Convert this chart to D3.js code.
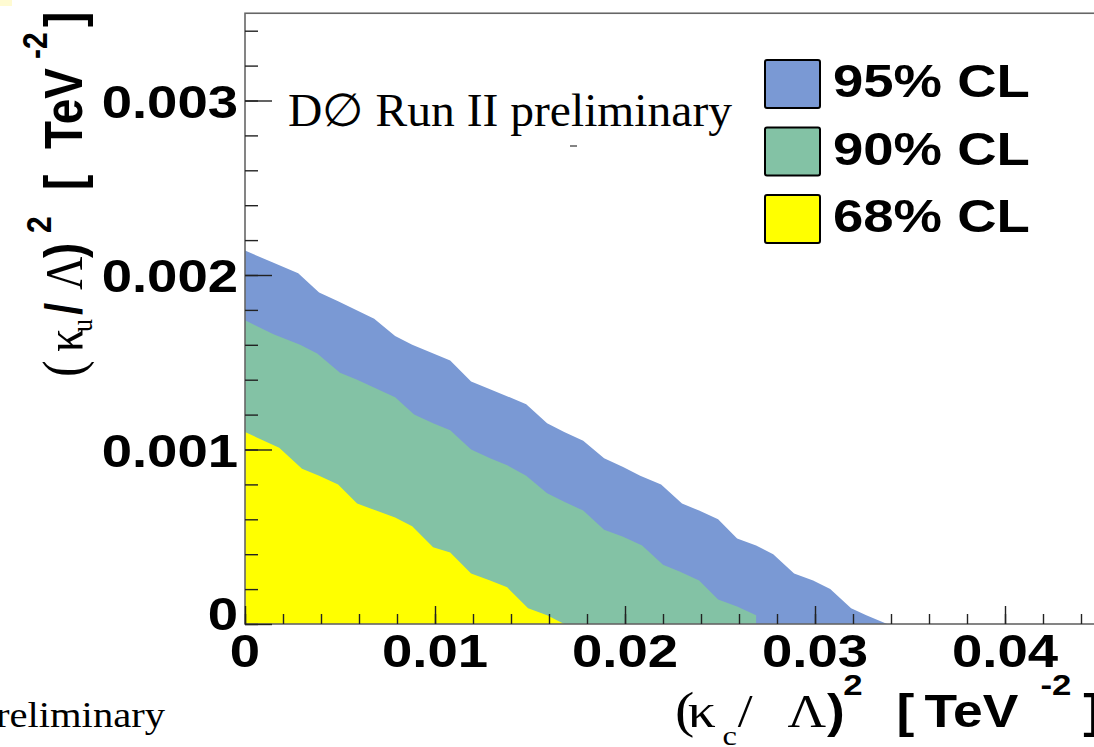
<!DOCTYPE html>
<html>
<head>
<meta charset="utf-8">
<script src="https://cdn.jsdelivr.net/npm/d3@7"></script>
<style>
  html, body { margin: 0; padding: 0; background: #fff; }
  svg { display: block; }
</style>
</head>
<body>
<div id="chart"></div>
<script>
// ---------------- data ----------------
const xTickValues = [0, 0.01, 0.02, 0.03, 0.04];
const xTickLabels = ["0", "0.01", "0.02", "0.03", "0.04"];
const yTickValues = [0, 0.001, 0.002, 0.003];
const yTickLabels = ["0", "0.001", "0.002", "0.003"];

const legendLabels = ["95% CL", "90% CL", "68% CL"];

// 95% CL boundary
const cl95X = [0, 0.0015, 0.0028, 0.0039, 0.0049, 0.0068, 0.0079, 0.0088, 0.0108, 0.0119, 0.0128, 0.0148,
  0.0159, 0.0168, 0.0178, 0.0189, 0.0199, 0.0208, 0.0219, 0.0230, 0.0239, 0.0249, 0.0259, 0.0269,
  0.0278, 0.0289, 0.0299, 0.0308, 0.0319, 0.0327, 0.0338];
const cl95Y = [0.00214, 0.00207, 0.00201, 0.00190, 0.00185, 0.00175, 0.00165, 0.00160, 0.00151, 0.00139, 0.00135, 0.00126,
  0.00115, 0.00110, 0.00105, 0.00095, 0.00090, 0.00085, 0.00080, 0.00069, 0.00065, 0.00060, 0.00049, 0.00045,
  0.00040, 0.00029, 0.00025, 0.00020, 0.00009, 0.00005, 0];

// 90% CL boundary
const cl90X = [0, 0.0015, 0.0029, 0.0038, 0.0050, 0.0059, 0.0069, 0.0079, 0.0089, 0.0099, 0.0108, 0.0119,
  0.0129, 0.0138, 0.0148, 0.0159, 0.0168, 0.0178, 0.0189, 0.0199, 0.0209, 0.0220, 0.0229, 0.0239,
  0.0249, 0.0259, 0.0269, 0.0269];
const cl90Y = [0.00174, 0.00166, 0.00160, 0.00155, 0.00144, 0.00140, 0.00135, 0.00130, 0.00120, 0.00115, 0.00111, 0.00100,
  0.00095, 0.00091, 0.00085, 0.00075, 0.00070, 0.00065, 0.00054, 0.00050, 0.00045, 0.00034, 0.00030, 0.00025,
  0.00014, 0.00010, 0.00005, 0];

// 68% CL boundary
const cl68X = [0, 0.0018, 0.0030, 0.0039, 0.0049, 0.0059, 0.0069, 0.0079, 0.0088, 0.0099, 0.0108, 0.0119,
  0.0129, 0.0138, 0.0149, 0.0159, 0.0168];
const cl68Y = [0.00110, 0.00101, 0.00089, 0.00085, 0.00080, 0.00069, 0.00065, 0.00061, 0.00056, 0.00044, 0.00041, 0.00029,
  0.00025, 0.00021, 0.00009, 0.00005, 0];

// ---------------- layout / style ----------------
const W = 1094, H = 747;
const SX = 1.16; // horizontal stretch of the original image
const colors = { cl95: "#7a99d4", cl90: "#83c2a5", cl68: "#ffff00" };
const boldFont = "'Liberation Sans', Arial, sans-serif";
const serifFont = "'Liberation Serif', 'Times New Roman', serif";

const svg = d3.select("#chart").append("svg").attr("width", W).attr("height", H);

const x = d3.scaleLinear().domain([0, 0.05]).range([245, 1195]);
const y = d3.scaleLinear().domain([0, 0.0035]).range([624, 13.25]);

// tiny pale mark at top-left corner
svg.append("rect").attr("x", 0).attr("y", 0).attr("width", 12).attr("height", 6).attr("fill", "#fffbd2");

// ---------------- filled regions ----------------
function band(xs, ys, color) {
  const pts = xs.map((d, i) => [d, ys[i]]);
  const area = d3.area().x(d => x(d[0])).y0(y(0)).y1(d => y(d[1]));
  svg.append("path").datum(pts).attr("d", area).attr("fill", color).attr("stroke", "none");
}
band(cl95X, cl95Y, colors.cl95);
band(cl90X, cl90Y, colors.cl90);
band(cl68X, cl68Y, colors.cl68);

// ---------------- frame & ticks ----------------
svg.append("rect").attr("x", x(0)).attr("y", y(0.0035))
  .attr("width", x(0.05) - x(0)).attr("height", y(0) - y(0.0035))
  .attr("fill", "none").attr("stroke", "#666").attr("stroke-width", 1.6);

const xMinor = d3.range(0, 25).map(i => i * 0.002);
const yMinor = d3.range(0, 18).map(i => i * 0.0002);

const gx = svg.append("g").attr("transform", `translate(0,${y(0)})`);
gx.call(d3.axisBottom(x).tickValues(xMinor).tickSizeInner(-10).tickSizeOuter(0).tickFormat(""));
gx.call(g => g.select(".domain").remove());
const gx2 = svg.append("g").attr("transform", `translate(0,${y(0)})`);
gx2.call(d3.axisBottom(x).tickValues(xTickValues).tickSizeInner(-18).tickSizeOuter(0).tickFormat(""));
gx2.call(g => g.select(".domain").remove());

const gy = svg.append("g").attr("transform", `translate(${x(0)},0)`);
gy.call(d3.axisLeft(y).tickValues(yMinor).tickSizeInner(-13).tickSizeOuter(0).tickFormat(""));
gy.call(g => g.select(".domain").remove());
const gy2 = svg.append("g").attr("transform", `translate(${x(0)},0)`);
gy2.call(d3.axisLeft(y).tickValues(yTickValues).tickSizeInner(-27).tickSizeOuter(0).tickFormat(""));
gy2.call(g => g.select(".domain").remove());
svg.selectAll(".tick line").attr("stroke", "#222").attr("stroke-width", 1.4);

// ---------------- helpers ----------------
function htext(px, py, s, size, family, weight, anchor) {
  return svg.append("g").attr("transform", `translate(${px},${py}) scale(${SX},1)`)
    .append("text").attr("text-anchor", anchor || "start")
    .attr("font-family", family).attr("font-size", size).attr("font-weight", weight || "normal")
    .attr("fill", "#000").text(s);
}

// tick labels
xTickValues.forEach((v, i) => {
  htext(x(v), 667, xTickLabels[i], 47, boldFont, "bold", "middle");
});
yTickValues.forEach((v, i) => {
  htext(238, y(v) + (v === 0 ? 6 : 17), yTickLabels[i], 47, boldFont, "bold", "end");
});

// ---------------- x axis title ----------------
{
  const g = svg.append("g").attr("transform", `translate(675,727) scale(${SX},1)`);
  const t = g.append("text").attr("fill", "#000");
  const parts = [
    { s: "(", x: 0, y: 0, f: serifFont, w: "normal", z: 50 },
    { s: "κ", x: 11, y: 0, f: serifFont, w: "normal", z: 48 },
    { s: "c", x: 41, y: 18, f: serifFont, w: "normal", z: 28 },
    { s: "/", x: 54, y: 0, f: serifFont, w: "normal", z: 46 },
    { s: "Λ", x: 97, y: 0, f: serifFont, w: "normal", z: 46 },
    { s: ")", x: 131, y: 0, f: boldFont, w: "bold", z: 46 },
    { s: "2", x: 145, y: -32, f: boldFont, w: "bold", z: 30 },
    { s: "[", x: 191, y: 0, f: boldFont, w: "bold", z: 46 },
    { s: "TeV", x: 215, y: 0, f: boldFont, w: "bold", z: 46 },
    { s: "-2", x: 315, y: -32, f: boldFont, w: "bold", z: 30 },
    { s: "]", x: 352, y: 0, f: boldFont, w: "bold", z: 46 }
  ];
  parts.forEach(p => {
    t.append("tspan").attr("x", p.x).attr("y", p.y).attr("font-family", p.f)
      .attr("font-weight", p.w).attr("font-size", p.z).text(p.s);
  });
}

// ---------------- y axis title (rotated) ----------------
{
  const g = svg.append("g").attr("transform", `translate(82,377) rotate(-90) scale(1,${SX})`);
  const t = g.append("text").attr("fill", "#000");
  const parts = [
    { s: "(", x: 0, y: 0, f: serifFont, w: "normal", z: 50 },
    { s: "κ", x: 25, y: 0, f: serifFont, w: "normal", z: 46 },
    { s: "u", x: 45, y: 9, f: serifFont, w: "normal", z: 26 },
    { s: "/", x: 62, y: 0, f: boldFont, w: "bold", z: 44 },
    { s: "Λ", x: 87, y: 0, f: serifFont, w: "normal", z: 46 },
    { s: ")", x: 119, y: 0, f: boldFont, w: "bold", z: 46 },
    { s: "2", x: 144, y: -27, f: boldFont, w: "bold", z: 30 },
    { s: "[", x: 187, y: 0, f: boldFont, w: "bold", z: 46 },
    { s: "TeV", x: 228, y: 0, f: boldFont, w: "bold", z: 46 },
    { s: "-2", x: 318, y: -30, f: boldFont, w: "bold", z: 30 },
    { s: "]", x: 350, y: 0, f: boldFont, w: "bold", z: 46 }
  ];
  parts.forEach(p => {
    t.append("tspan").attr("x", p.x).attr("y", p.y).attr("font-family", p.f)
      .attr("font-weight", p.w).attr("font-size", p.z).text(p.s);
  });
}

// ---------------- legend ----------------
const legendColors = [colors.cl95, colors.cl90, colors.cl68];
legendLabels.forEach((lab, i) => {
  const top = 60 + i * 67.5;
  svg.append("rect").attr("x", 765).attr("y", top).attr("width", 55).attr("height", 48)
    .attr("rx", 2).attr("fill", legendColors[i]).attr("stroke", "#000").attr("stroke-width", 2);
  htext(833, top + 37, lab, 47, boldFont, "bold", "start");
});

// ---------------- annotations ----------------
svg.append("text").attr("x", 288).attr("y", 126)
  .attr("font-family", serifFont).attr("font-size", 46)
  .attr("textLength", 444).attr("lengthAdjust", "spacingAndGlyphs")
  .attr("fill", "#000").text("D∅ Run II preliminary");
svg.append("line").attr("x1", 570).attr("x2", 577).attr("y1", 146).attr("y2", 146)
  .attr("stroke", "#333").attr("stroke-width", 1.2);

htext(165, 727, "preliminary", 35, serifFont, "normal", "end");
</script>
</body>
</html>
